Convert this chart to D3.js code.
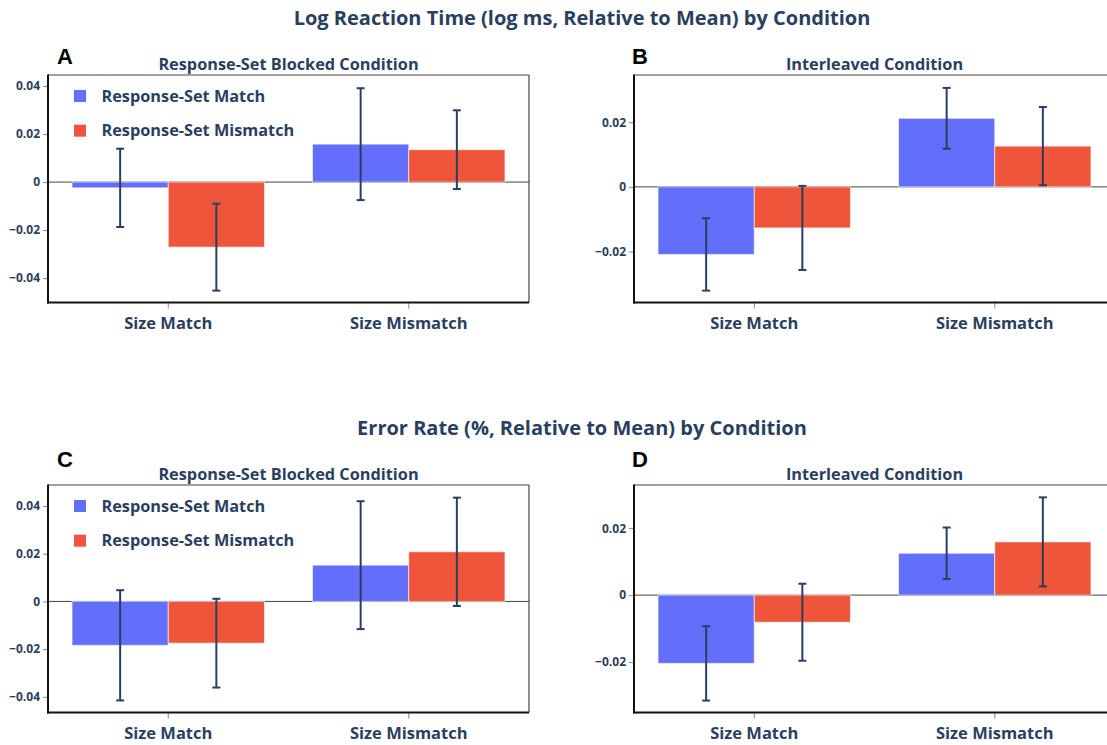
<!DOCTYPE html>
<html>
<head>
<meta charset="utf-8">
<script src="https://cdn.jsdelivr.net/npm/d3@7"></script>
<style>
  body { margin: 0; background: #fff; }
  text { font-family: "Open Sans", sans-serif; }
</style>
</head>
<body>
<svg></svg>
<script>
const width = 1107, height = 745;
const svg = d3.select("svg").attr("width", width).attr("height", height);

// categories and series
const conditions = ["Size Match", "Size Mismatch"];
const seriesNames = ["Response-Set Match", "Response-Set Mismatch"];
const seriesColors = ["#636efa", "#ef553b"];

// Log reaction time, blocked
const rtBlockedMatch = [-0.0024, 0.0158];
const rtBlockedMatchErr = [0.0163, 0.0233];
const rtBlockedMismatch = [-0.0271, 0.0135];
const rtBlockedMismatchErr = [0.0181, 0.0164];
// Log reaction time, interleaved
const rtInterMatch = [-0.0209, 0.0212];
const rtInterMatchErr = [0.0112, 0.0094];
const rtInterMismatch = [-0.0127, 0.0126];
const rtInterMismatchErr = [0.0130, 0.0121];
// Error rate, blocked
const erBlockedMatch = [-0.0184, 0.0152];
const erBlockedMatchErr = [0.0231, 0.0268];
const erBlockedMismatch = [-0.0175, 0.0208];
const erBlockedMismatchErr = [0.0186, 0.0227];
// Error rate, interleaved
const erInterMatch = [-0.0204, 0.0125];
const erInterMatchErr = [0.0111, 0.0077];
const erInterMismatch = [-0.0081, 0.0159];
const erInterMismatchErr = [0.0115, 0.0133];

// y ticks
const blockedTicks = [-0.04, -0.02, 0, 0.02, 0.04];
const interTicks = [-0.02, 0, 0.02];

const rowTitles = [
  "Log Reaction Time (log ms, Relative to Mean) by Condition",
  "Error Rate (%, Relative to Mean) by Condition"
];

const W = 481, H = 227.6;
const textColor = "#2a3f5f";

const panels = [
  { letter: "A", x: 48, y: 75, title: "Response-Set Blocked Condition", legend: true,
    domain: [-0.0502, 0.0446], ticks: blockedTicks,
    vals: [rtBlockedMatch, rtBlockedMismatch], errs: [rtBlockedMatchErr, rtBlockedMismatchErr] },
  { letter: "B", x: 634, y: 75, title: "Interleaved Condition", legend: false,
    domain: [-0.0358, 0.0346], ticks: interTicks,
    vals: [rtInterMatch, rtInterMismatch], errs: [rtInterMatchErr, rtInterMismatchErr] },
  { letter: "C", x: 48, y: 485, title: "Response-Set Blocked Condition", legend: true,
    domain: [-0.0466, 0.0488], ticks: blockedTicks,
    vals: [erBlockedMatch, erBlockedMismatch], errs: [erBlockedMatchErr, erBlockedMismatchErr] },
  { letter: "D", x: 634, y: 485, title: "Interleaved Condition", legend: false,
    domain: [-0.0351, 0.0329], ticks: interTicks,
    vals: [erInterMatch, erInterMismatch], errs: [erInterMatchErr, erInterMismatchErr] }
];

// row titles
rowTitles.forEach((t, i) => {
  svg.append("text")
    .attr("x", 582).attr("y", 25 + i * 410)
    .attr("text-anchor", "middle")
    .attr("font-size", 20).attr("font-weight", 700)
    .attr("fill", textColor)
    .text(t);
});

panels.forEach((p, pi) => {
  const g = svg.append("g").attr("transform", `translate(${p.x},${p.y})`);

  const x = d3.scaleBand().domain(conditions).range([0, W])
    .paddingInner(0.2).paddingOuter(0.1);
  const xs = d3.scaleBand().domain(seriesNames).range([0, x.bandwidth()]);
  const y = d3.scaleLinear().domain(p.domain).range([H, 0]);

  // panel letter
  svg.append("text")
    .attr("x", p.x + (p.x < 100 ? 9 : -2))
    .attr("y", p.y + (pi < 2 ? -11 : -18))
    .attr("font-size", 22).attr("font-weight", 700)
    .attr("fill", "#000")
    .style("font-family", "'Liberation Sans', Arial, sans-serif")
    .text(p.letter);

  // subplot title
  g.append("text")
    .attr("x", W / 2).attr("y", -5)
    .attr("text-anchor", "middle")
    .attr("font-size", 16.3).attr("font-weight", 700)
    .attr("fill", textColor)
    .text(p.title);

  // y axis
  const yAxis = g.append("g")
    .call(d3.axisLeft(y).tickValues(p.ticks).tickSize(5).tickPadding(3)
      .tickFormat(d => d === 0 ? "0" : d3.format(".2f")(d)));
  yAxis.select(".domain").remove();
  yAxis.selectAll("line").attr("stroke", "#8a8a8a");
  yAxis.selectAll("text")
    .attr("font-size", 12).attr("font-weight", 700)
    .attr("fill", textColor)
    .style("font-family", "'Open Sans', sans-serif");

  // x axis
  const xAxis = g.append("g").attr("transform", `translate(0,${H})`)
    .call(d3.axisBottom(x).tickSize(6).tickPadding(9));
  xAxis.select(".domain").remove();
  xAxis.selectAll("line").attr("stroke", "#8a8a8a");
  xAxis.selectAll("text")
    .attr("font-size", 16.5).attr("font-weight", 700)
    .attr("fill", textColor)
    .style("font-family", "'Open Sans', sans-serif");

  // zero line
  g.append("line")
    .attr("x1", 0).attr("x2", W)
    .attr("y1", y(0)).attr("y2", y(0))
    .attr("stroke", "#444").attr("stroke-width", 1);

  // bars
  seriesNames.forEach((s, si) => {
    g.selectAll(`rect.s${si}`)
      .data(conditions.map((c, ci) => ({ c, v: p.vals[si][ci] })))
      .enter().append("rect")
      .attr("class", `s${si}`)
      .attr("x", d => x(d.c) + xs(s))
      .attr("width", xs.bandwidth())
      .attr("y", d => y(Math.max(0, d.v)))
      .attr("height", d => Math.abs(y(d.v) - y(0)))
      .attr("fill", seriesColors[si])
      .attr("stroke", "rgba(255,255,255,0.6)")
      .attr("stroke-width", 1);
  });

  // error bars
  seriesNames.forEach((s, si) => {
    conditions.forEach((c, ci) => {
      const cx = x(c) + xs(s) + xs.bandwidth() / 2;
      const v = p.vals[si][ci], e = p.errs[si][ci];
      const eg = g.append("g").attr("stroke", textColor).attr("stroke-width", 2);
      eg.append("line").attr("x1", cx).attr("x2", cx).attr("y1", y(v + e)).attr("y2", y(v - e));
      [v + e, v - e].forEach(t => {
        eg.append("line").attr("x1", cx - 4).attr("x2", cx + 4).attr("y1", y(t)).attr("y2", y(t));
      });
    });
  });

  // frame: mirrored top/right thin, left/bottom heavy
  g.append("line").attr("x1", 0).attr("x2", W).attr("y1", 0).attr("y2", 0)
    .attr("stroke", "#444").attr("stroke-width", 1.2);
  g.append("line").attr("x1", W).attr("x2", W).attr("y1", 0).attr("y2", H)
    .attr("stroke", "#444").attr("stroke-width", 1.2);
  g.append("line").attr("x1", 0).attr("x2", 0).attr("y1", -0.5).attr("y2", H + 1)
    .attr("stroke", "#111").attr("stroke-width", 2);
  g.append("line").attr("x1", -1).attr("x2", W).attr("y1", H).attr("y2", H)
    .attr("stroke", "#111").attr("stroke-width", 2);

  // legend
  if (p.legend) {
    seriesNames.forEach((s, si) => {
      const ly = 21 + si * 34.7;
      g.append("rect")
        .attr("x", 26).attr("y", ly - 6)
        .attr("width", 12).attr("height", 12)
        .attr("fill", seriesColors[si]);
      g.append("text")
        .attr("x", 53.5).attr("y", ly)
        .attr("dy", "0.35em")
        .attr("font-size", 16.3).attr("font-weight", 700)
        .attr("fill", textColor)
        .text(s);
    });
  }
});
</script>
</body>
</html>
